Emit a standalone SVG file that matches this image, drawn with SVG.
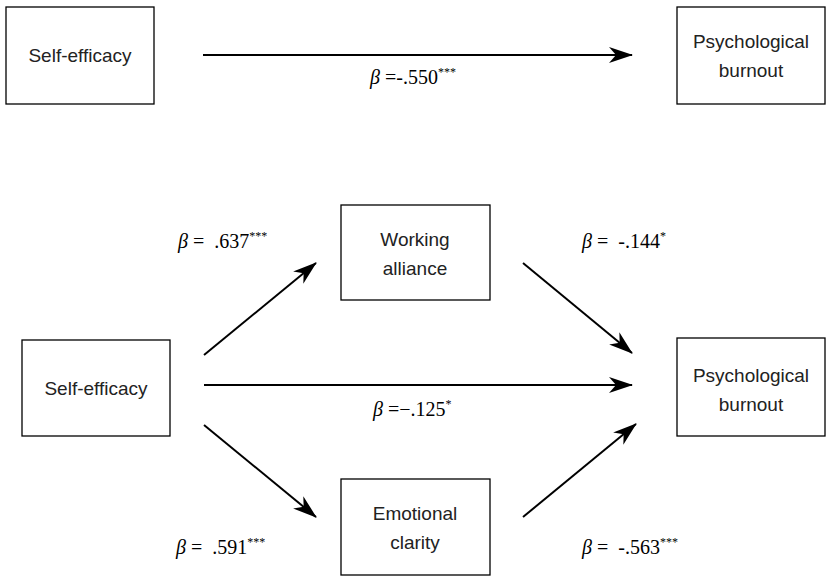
<svg xmlns="http://www.w3.org/2000/svg" width="830" height="582" viewBox="0 0 830 582">
<style>
.box{fill:#fff;stroke:#000;stroke-width:1.3}
.lbl{font-family:"Liberation Sans",Arial,sans-serif;font-size:19px;fill:#222;text-anchor:middle}
.b{font-family:"Liberation Serif","Times New Roman",serif;font-size:20px;fill:#000;white-space:pre}
.sup{font-size:12px}
.ln{stroke:#000;stroke-width:2;fill:none;marker-end:url(#ah)}
</style>
<defs>
<marker id="ah" markerWidth="24" markerHeight="16" refX="23" refY="8" orient="auto" markerUnits="userSpaceOnUse">
<path d="M0,0 L24,8 L0,16 L7,8 Z" fill="#000"/>
</marker>
</defs>
<rect width="830" height="582" fill="#fff"/>
<g id="n1"><rect class="box" x="6" y="7" width="148" height="97"/><text class="lbl" x="80" y="62">Self-efficacy</text></g>
<g id="n2"><rect class="box" x="677" y="7" width="148" height="97"/><text class="lbl" x="751" y="48">Psychological</text><text class="lbl" x="751" y="77">burnout</text></g>
<g id="n3"><rect class="box" x="341" y="205" width="149" height="95"/><text class="lbl" x="415" y="246">Working</text><text class="lbl" x="415" y="275">alliance</text></g>
<g id="n4"><rect class="box" x="22" y="340" width="148" height="96"/><text class="lbl" x="96" y="395">Self-efficacy</text></g>
<g id="n5"><rect class="box" x="677" y="338" width="148" height="98"/><text class="lbl" x="751" y="382">Psychological</text><text class="lbl" x="751" y="411">burnout</text></g>
<g id="n6"><rect class="box" x="341" y="479" width="149" height="96"/><text class="lbl" x="415" y="520">Emotional</text><text class="lbl" x="415" y="549">clarity</text></g>
<g id="connectors">
<line class="ln" x1="203" y1="55" x2="632" y2="55"/>
<line class="ln" x1="204" y1="355" x2="316" y2="263"/>
<line class="ln" x1="204" y1="385" x2="632" y2="385"/>
<line class="ln" x1="204" y1="425" x2="316" y2="517"/>
<line class="ln" x1="523" y1="263" x2="632" y2="353"/>
<line class="ln" x1="523" y1="517" x2="636" y2="424"/>
</g>
<g id="labels">
<text class="b" x="370" y="84" xml:space="preserve"><tspan font-style="italic">β</tspan> =-.550<tspan class="sup" dy="-8">***</tspan></text>
<text class="b" x="178" y="248" xml:space="preserve"><tspan font-style="italic">β</tspan> =  .637<tspan class="sup" dy="-8">***</tspan></text>
<text class="b" x="582" y="248" xml:space="preserve"><tspan font-style="italic">β</tspan> =  -.144<tspan class="sup" dy="-8">*</tspan></text>
<text class="b" x="373" y="416" xml:space="preserve"><tspan font-style="italic">β</tspan> =−.125<tspan class="sup" dy="-8">*</tspan></text>
<text class="b" x="176" y="554" xml:space="preserve"><tspan font-style="italic">β</tspan> =  .591<tspan class="sup" dy="-8">***</tspan></text>
<text class="b" x="582" y="554" xml:space="preserve"><tspan font-style="italic">β</tspan> =  -.563<tspan class="sup" dy="-8">***</tspan></text>
</g>
</svg>
